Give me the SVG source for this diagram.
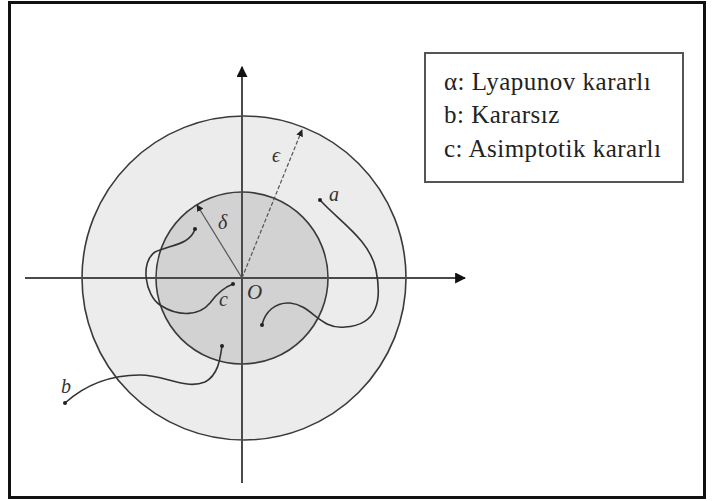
<svg xmlns="http://www.w3.org/2000/svg" width="712" height="501" viewBox="0 0 712 501">
<defs>
<style>
.ax{stroke:#4a4a4a;stroke-width:2;fill:none}
.cv{stroke:#333;stroke-width:1.6;fill:none}
.lbl{font-family:"Liberation Serif","DejaVu Serif",serif;font-style:italic;fill:#333}
.leg{font-family:"Liberation Serif","DejaVu Serif",serif;font-size:25px;letter-spacing:0.5px;fill:#222}
</style>
<marker id="ah" viewBox="0 0 10 10" refX="9" refY="5" markerWidth="7" markerHeight="7" orient="auto" markerUnits="userSpaceOnUse">
<path d="M0,0 L10,5 L0,10 z" fill="#222"/>
</marker>
<marker id="ahBig" viewBox="0 0 10 10" refX="9" refY="5" markerWidth="11" markerHeight="11" orient="auto" markerUnits="userSpaceOnUse">
<path d="M0,0 L10,5 L0,10 z" fill="#111"/>
</marker>
<marker id="dot" viewBox="0 0 4 4" refX="2" refY="2" markerWidth="4" markerHeight="4" markerUnits="userSpaceOnUse">
<circle cx="2" cy="2" r="2" fill="#222"/>
</marker>
</defs>
<rect x="0" y="0" width="712" height="501" fill="#fff"/>
<rect x="9.5" y="2.5" width="695" height="495" fill="none" stroke="#111" stroke-width="3"/>
<g id="regions">
<circle id="outer" cx="244" cy="278" r="162" fill="#ececec" stroke="#3a3a3a" stroke-width="1.6"/>
<circle id="inner" cx="242" cy="278" r="86" fill="#d2d2d2" stroke="#3a3a3a" stroke-width="1.6"/>
</g>
<g id="connectors">
<line class="ax" x1="25" y1="278" x2="465" y2="278" marker-end="url(#ahBig)"/>
<line class="ax" x1="242" y1="483" x2="242" y2="67" marker-end="url(#ahBig)"/>
<line x1="242" y1="278" x2="197" y2="205" stroke="#555" stroke-width="1.2" marker-end="url(#ah)"/>
<line x1="242" y1="278" x2="302" y2="130" stroke="#555" stroke-width="1.2" stroke-dasharray="4,2" marker-end="url(#ah)"/>
<path id="traj-a" class="cv" d="M320,200 C340,222 370,240 376,270 C382,300 378,325 345,327 C320,330 312,305 290,303 C275,302 265,312 262,325" marker-start="url(#dot)" marker-end="url(#dot)"/>
<path id="traj-b" class="cv" d="M65,403 C85,385 110,375 140,375 C165,375 185,390 205,382 C218,375 220,360 222,346" marker-start="url(#dot)" marker-end="url(#dot)"/>
<path id="traj-c" class="cv" d="M195,229 C190,245 170,245 155,252 C140,262 145,295 160,305 C180,318 200,315 210,303 C218,292 225,287 233,284" marker-start="url(#dot)" marker-end="url(#dot)"/>
</g>
<g id="labels">
<text class="lbl" x="218" y="229" font-size="20">δ</text>
<text class="lbl" x="272" y="162" font-size="20">ϵ</text>
<text class="lbl" x="329" y="201" font-size="20">a</text>
<text class="lbl" x="61" y="393" font-size="20">b</text>
<text class="lbl" x="219" y="306" font-size="20">c</text>
<text class="lbl" x="247" y="299" font-size="21">O</text>
</g>
<g id="legend">
<rect x="425" y="53" width="258" height="129" fill="#fff" stroke="#555" stroke-width="2"/>
<text class="leg" x="444" y="90" font-family="Liberation Serif, serif">α: Lyapunov kararlı</text>
<text class="leg" x="444" y="123" font-family="Liberation Serif, serif">b: Kararsız</text>
<text class="leg" x="444" y="157" font-family="Liberation Serif, serif">c: Asimptotik kararlı</text>
</g>
</svg>
